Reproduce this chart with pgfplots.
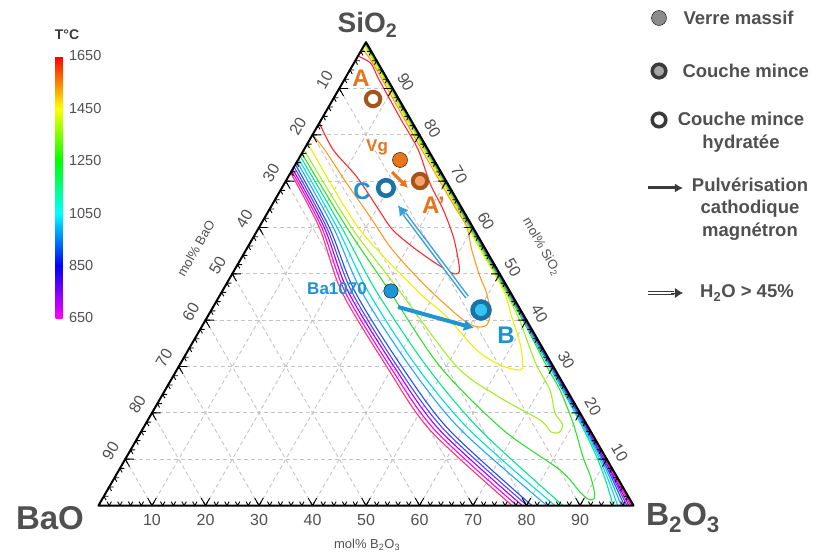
\documentclass[border=0pt]{standalone}
\usepackage{fontspec}
\setmainfont{Liberation Sans}
\usepackage{pgfplots}
\pgfplotsset{compat=1.18}
\usetikzlibrary{arrows.meta,calc}
\definecolor{c1}{HTML}{FF3377}
\definecolor{c2}{HTML}{FF00FF}
\definecolor{c3}{HTML}{A000FF}
\definecolor{c4}{HTML}{5A40FF}
\definecolor{c5}{HTML}{2050FF}
\definecolor{c6}{HTML}{20A8FF}
\definecolor{c7}{HTML}{00DDE0}
\definecolor{c8}{HTML}{00E890}
\definecolor{c9}{HTML}{30E030}
\definecolor{c10}{HTML}{A0F020}
\definecolor{c11}{HTML}{F0F000}
\definecolor{c12}{HTML}{FF9A20}
\definecolor{c13}{HTML}{FF2A2A}
\definecolor{txt}{HTML}{505050}
\definecolor{oranget}{HTML}{E8751A}
\definecolor{brownc}{HTML}{A5541C}
\definecolor{afill}{HTML}{F4A46A}
\definecolor{bluet}{HTML}{1D93D1}
\definecolor{bluec}{HTML}{1B72A4}
\definecolor{bfill}{HTML}{35C4F2}
\definecolor{bdot}{HTML}{1E96D6}
\definecolor{dblb}{HTML}{3A9FDC}
\definecolor{gridc}{HTML}{C4C4C4}
\definecolor{legd}{HTML}{3A3A3A}
\pgfplotsset{
  table/tern/.style={x expr=\thisrow{b}+0.5*\thisrow{s}, y expr=0.8660254*\thisrow{s}, row sep=\\},
  cl/.style={line width=1.1pt, smooth, tension=0.5},
}
\tikzset{
  gl/.style={gridc, line width=0.9pt, dash pattern=on 4pt off 3pt},
  tk/.style={black, line width=0.9pt},
  tl/.style={font=\fontsize{16}{18}\selectfont, text=txt},
  bl/.style={font=\fontsize{24}{28}\bfseries\selectfont},
  lg/.style={font=\fontsize{18.5}{23.5}\bfseries\selectfont, text=txt},
}
\begin{document}
\begin{tikzpicture}
\begin{axis}[
  x=5.35pt, y=5.35pt,
  xmin=-18.411, xmax=135.981, ymin=-10, ymax=94.486,
  hide axis, clip=false,
  colormap={temp}{rgb255(0cm)=(255,0,255); rgb255(1cm)=(128,0,255); rgb255(2cm)=(0,0,255); rgb255(3cm)=(0,128,255); rgb255(4cm)=(0,255,255); rgb255(5cm)=(0,255,128); rgb255(6cm)=(0,255,0); rgb255(7cm)=(128,255,0); rgb255(8cm)=(255,255,0); rgb255(9cm)=(255,128,0); rgb255(10cm)=(255,0,0)},
  colorbar, point meta min=650, point meta max=1650,
  colorbar style={
    at={($(parent axis.origin)+(-51.5pt,449.5pt)$)}, anchor=north west,
    scale only axis, width=7pt, height=262pt,
    ytick={650,850,1050,1250,1450,1650},
    yticklabels={650,850,1050,1250,1450,1650},
    yticklabel style={font=\fontsize{14.5}{16}\selectfont, text=txt, xshift=3pt},
    yticklabel pos=right,
    axis line style={draw=none}, major tick length=0pt,
  },
]
\path (axis cs:-18.411,-10) rectangle (axis cs:135.981,94.486);
% grid
\pgfplotsinvokeforeach{10,20,...,90}{%
  \pgfmathsetmacro\gA{#1/2}\pgfmathsetmacro\gB{100-#1/2}\pgfmathsetmacro\gY{0.8660254*#1}%
  \pgfmathsetmacro\gC{(100+#1)/2}\pgfmathsetmacro\gD{0.8660254*(100-#1)}\pgfmathsetmacro\gE{100-#1}\pgfmathsetmacro\gF{(100-#1)/2}%
  \edef\tmp{\noexpand\draw[gl] (axis cs:\gA,\gY) -- (axis cs:\gB,\gY);
    \noexpand\draw[gl] (axis cs:#1,0) -- (axis cs:\gC,\gD);
    \noexpand\draw[gl] (axis cs:\gE,0) -- (axis cs:\gF,\gD);}\tmp}
% contours: band (left branches)
\addplot[c1,cl] table[tern]{b s\\0 71.8\\11.27 60\\22.38 46.15\\38.87 30\\53.8 16.3\\77.3 0\\};
\addplot[c2,cl] table[tern]{b s\\0 72.2\\11.72 60\\23.0 46.15\\39.49 30\\54.7 16.3\\78.2 0\\};
\addplot[c3,cl] table[tern]{b s\\0 72.6\\12.2 60\\23.6 46.15\\40.23 30\\55.6 16.3\\79.2 0\\};
\addplot[c4,cl] table[tern]{b s\\0 73.1\\12.65 60\\24.25 46.15\\40.86 30\\56.5 16.3\\80.1 0\\};
\addplot[c5,cl] table[tern]{b s\\0 73.6\\13.15 60\\24.87 46.15\\41.67 30\\57.4 16.3\\81.0 0\\};
\addplot[c6,cl] table[tern]{b s\\0 74.2\\13.9 60\\26.1 46.15\\43.22 30\\59.6 16.3\\83.8 0\\};
\addplot[c7,cl] table[tern]{b s\\0 74.8\\14.6 60\\27.35 46.15\\44.47 30\\61.2 16.3\\85.3 0\\};
\addplot[c8,cl] table[tern]{b s\\0 75.4\\15.45 60\\28.9 46.15\\46.35 30\\63.2 16.3\\86.8 0\\};
% band (branches along the B2O3-SiO2 side)
\addplot[c8,cl] table[tern]{b s\\96.2 0\\92.4 5\\88.3 10\\83.8 15\\79.05 20\\69.25 30\\54.4 45\\39.5 60\\24.58 75\\9.65 90\\0 99.7\\};
\addplot[c7,cl] table[tern]{b s\\97.04 0\\92.97 5\\88.67 10\\84.06 15\\79.26 20\\69.42 30\\54.53 45\\39.61 60\\24.67 75\\9.73 90\\0 99.75\\};
\addplot[c6,cl] table[tern]{b s\\97.72 0\\93.44 5\\88.98 10\\84.28 15\\79.43 20\\69.55 30\\54.64 45\\39.7 60\\24.75 75\\9.79 90\\0 99.8\\};
\addplot[c5,cl] table[tern]{b s\\98.29 0\\93.83 5\\89.23 10\\84.46 15\\79.57 20\\69.66 30\\54.73 45\\39.78 60\\24.81 75\\9.84 90\\0 99.85\\};
\addplot[c4,cl] table[tern]{b s\\98.75 0\\94.14 5\\89.44 10\\84.6 15\\79.69 20\\69.75 30\\54.8 45\\39.84 60\\24.86 75\\9.89 90\\0 99.88\\};
\addplot[c3,cl] table[tern]{b s\\99.13 0\\94.4 5\\89.61 10\\84.72 15\\79.78 20\\69.83 30\\54.86 45\\39.89 60\\24.9 75\\9.92 90\\0 99.92\\};
\addplot[c2,cl] table[tern]{b s\\99.47 0\\94.64 5\\89.76 10\\84.83 15\\79.87 20\\69.9 30\\54.92 45\\39.93 60\\24.94 75\\9.95 90\\0 99.95\\};
\addplot[c1,cl] table[tern]{b s\\99.7 0\\94.79 5\\89.86 10\\84.9 15\\79.92 20\\69.94 30\\54.95 45\\39.96 60\\24.97 75\\9.97 90\\0 99.97\\};
% loops
\addplot[c9,cl] table[tern]{b s\\0 76.0\\16.4 60\\31.4 46.15\\48.83 30\\67.5 16.3\\82.43 7.66\\88.54 2.91\\91.0 1.3\\91.9 1.5\\90.95 3.35\\88.58 6.58\\85.33 10.47\\79.79 17.81\\73.79 24.93\\68.8 30\\59.3 40\\49.38 50\\39.44 60\\29.5 70\\19.55 80\\9.6 90\\2.7 97\\0 99.6\\};
\addplot[c10,cl] table[tern]{b s\\0 76.8\\17.3 60\\33.3 46.15\\51.95 30\\63.0 23.5\\73.3 18.45\\76.6 15.9\\78.2 15.8\\78.0 17.5\\75.35 19.97\\71.92 24.93\\67.0 30\\62.8 35\\58.7 40\\54.1 45\\44.2 55\\34.28 65\\24.35 75\\14.42 85\\6.5 93\\0 99.45\\};
\addplot[c11,cl] table[tern]{b s\\0 78.2\\18.56 60\\36.7 46.15\\44.71 40.75\\53.91 33.56\\59.89 30.33\\64.17 29.25\\63.94 30.69\\61.29 35.0\\56.86 40.75\\52.4 46.51\\44.0 55\\34.1 65\\24.15 75\\14.25 85\\6.35 93\\0 99.3\\};
\addplot[c12,cl] table[tern]{b s\\0 80.0\\3.97 76.7\\11.62 69.54\\19.58 62.34\\26.56 55.86\\33.78 50.12\\40.68 45.07\\48.17 40.04\\51.39 38.59\\53.08 38.96\\52.44 41.48\\49.66 45.8\\46.62 49.39\\42.19 55.15\\38.73 60.18\\33.8 65\\23.8 75\\13.9 85\\7.0 92\\3.0 96\\0 98.6\\};
\addplot[c13,cl] table[tern]{b s\\0 82.56\\5.52 76.73\\12.78 70.97\\19.75 64.5\\24.4 60.18\\27.35 58.02\\31.91 55.15\\36.27 52.62\\39.66 50.83\\41.65 49.97\\42.2 50.5\\40.75 52.99\\37.31 58.02\\32.56 63.78\\27.19 69.54\\21.41 76.73\\14.8 83.4\\10.13 88.17\\6.1 92.3\\3.1 95.5\\0 97.0\\};
% triangle
\draw[black, line width=2pt, line join=round] (axis cs:0,0) -- (axis cs:100,0) -- (axis cs:50,86.60254) -- cycle;
% ticks
\pgfplotsinvokeforeach{2,4,...,98}{%
  \pgfmathsetmacro\tA{#1-0.42}\pgfmathsetmacro\tB{#1+0.42}%
  \pgfmathsetmacro\lX{#1/2}\pgfmathsetmacro\lY{0.8660254*#1}\pgfmathsetmacro\lXa{#1/2+0.84}\pgfmathsetmacro\lXb{#1/2+0.42}\pgfmathsetmacro\lYb{0.8660254*#1-0.727}%
  \pgfmathsetmacro\rX{100-#1/2}\pgfmathsetmacro\rXa{100-#1/2-0.84}\pgfmathsetmacro\rXb{100-#1/2-0.42}%
  \edef\tmp{\noexpand\draw[tk] (axis cs:\tA,0.727) -- (axis cs:#1,0) -- (axis cs:\tB,0.727);
   \noexpand\draw[tk] (axis cs:\lXa,\lY) -- (axis cs:\lX,\lY) -- (axis cs:\lXb,\lYb);
   \noexpand\draw[tk] (axis cs:\rXa,\lY) -- (axis cs:\rX,\lY) -- (axis cs:\rXb,\lYb);}\tmp}
\pgfplotsinvokeforeach{10,20,...,90}{%
  \pgfmathsetmacro\tA{#1-0.8}\pgfmathsetmacro\tB{#1+0.8}%
  \pgfmathsetmacro\lX{#1/2}\pgfmathsetmacro\lY{0.8660254*#1}\pgfmathsetmacro\lXa{#1/2+1.6}\pgfmathsetmacro\lXb{#1/2+0.8}\pgfmathsetmacro\lYb{0.8660254*#1-1.386}%
  \pgfmathsetmacro\rX{100-#1/2}\pgfmathsetmacro\rXa{100-#1/2-1.6}\pgfmathsetmacro\rXb{100-#1/2-0.8}%
  \edef\tmp{\noexpand\draw[tk] (axis cs:\tA,1.386) -- (axis cs:#1,0) -- (axis cs:\tB,1.386);
   \noexpand\draw[tk] (axis cs:\lXa,\lY) -- (axis cs:\lX,\lY) -- (axis cs:\lXb,\lYb);
   \noexpand\draw[tk] (axis cs:\rXa,\lY) -- (axis cs:\rX,\lY) -- (axis cs:\rXb,\lYb);}\tmp}
% tick labels
\pgfplotsinvokeforeach{10,20,...,90}{\node[tl] at (axis cs:#1,-2.8) {#1};}
\node[tl,rotate=60] at (axis cs:42.25,79.53) {10};
\node[tl,rotate=60] at (axis cs:37.25,70.87) {20};
\node[tl,rotate=60] at (axis cs:32.25,62.21) {30};
\node[tl,rotate=60] at (axis cs:27.25,53.55) {40};
\node[tl,rotate=60] at (axis cs:22.25,44.89) {50};
\node[tl,rotate=60] at (axis cs:17.25,36.23) {60};
\node[tl,rotate=60] at (axis cs:12.25,27.57) {70};
\node[tl,rotate=60] at (axis cs:7.25,18.91) {80};
\node[tl,rotate=60] at (axis cs:2.25,10.25) {90};
\node[tl,rotate=-60] at (axis cs:57.43,79.14) {90};
\node[tl,rotate=-60] at (axis cs:62.43,70.48) {80};
\node[tl,rotate=-60] at (axis cs:67.43,61.82) {70};
\node[tl,rotate=-60] at (axis cs:72.43,53.16) {60};
\node[tl,rotate=-60] at (axis cs:77.43,44.50) {50};
\node[tl,rotate=-60] at (axis cs:82.43,35.84) {40};
\node[tl,rotate=-60] at (axis cs:87.43,27.18) {30};
\node[tl,rotate=-60] at (axis cs:92.43,18.52) {20};
\node[tl,rotate=-60] at (axis cs:97.43,9.86) {10};
% axis titles
\node[font=\fontsize{13}{15}\selectfont, text=txt] at (axis cs:50.2,-7.38) {mol\% B\textsubscript{2}O\textsubscript{3}};
\node[font=\fontsize{13}{15}\selectfont, text=txt, rotate=60] at (axis cs:18.2,48.1) {mol\% BaO};
\node[font=\fontsize{13}{15}\selectfont, text=txt, rotate=-60] at (axis cs:82.8,48.4) {mol\% SiO\textsubscript{2}};
% vertex labels
\node[font=\fontsize{28}{32}\bfseries\selectfont, text=txt] at (axis cs:50.28,89.81) {SiO\textsubscript{2}};
\node[font=\fontsize{33}{36}\bfseries\selectfont, text=txt] at (axis cs:-9.07,-2.4) {BaO};
\node[font=\fontsize{32}{36}\bfseries\selectfont, text=txt] at (axis cs:109.25,-2.4) {B\textsubscript{2}O\textsubscript{3}};
% arrows
\addplot[oranget, line width=3pt, -{Latex[length=8pt,width=9pt]}] table[tern]{b s\\18.87 71.98\\23.58 68.53\\};
\addplot[bdot, line width=4pt, -{Latex[length=10pt,width=12pt]}] table[tern]{b s\\34.56 42.85\\51.03 38.31\\};
\addplot[dblb, line width=1.5pt, double=white, double distance=1.5pt] table[tern]{b s\\46.38 45.0\\25.70 62.96\\};
\addplot[dblb, line width=0.8pt, -{Latex[length=10pt,width=11pt]}] table[tern]{b s\\25.9 62.78\\23.58 64.8\\};
% markers
\addplot[only marks, mark=*, mark size=7.5pt, mark options={draw=none, fill=oranget}] table[tern]{b s\\19.07 74.58\\};
\addplot[only marks, mark=*, mark size=7.2pt, mark options={draw=brownc, line width=4pt, fill=white}] table[tern]{b s\\7.45 87.74\\};
\addplot[only marks, mark=*, mark size=7.2pt, mark options={draw=brownc, line width=4pt, fill=afill}] table[tern]{b s\\25.07 70.04\\};
\addplot[only marks, mark=*, mark size=7.8pt, mark options={draw=bluec, line width=4.5pt, fill=white}] table[tern]{b s\\19.47 68.53\\};
\addplot[only marks, mark=*, mark size=8.5pt, mark options={draw=bluec, line width=4.5pt, fill=bfill}] table[tern]{b s\\50.40 42.20\\};
\addplot[only marks, mark=*, mark size=7.2pt, mark options={draw=none, fill=bdot}] table[tern]{b s\\31.52 46.30\\};
% point labels
\node[bl, text=oranget] at (axis cs:49.07,79.91) {A};
\node[font=\fontsize{17}{19}\bfseries\selectfont, text=oranget] at (axis cs:52.06,67.01) {Vg};
\node[bl, text=oranget] at (axis cs:62.6,56.17) {A'};
\node[bl, text=bluet] at (axis cs:49.25,58.79) {C};
\node[bl, text=bluet] at (axis cs:76.17,31.87) {B};
\node[font=\fontsize{17}{19}\bfseries\selectfont, text=bluet] at (axis cs:44.58,40.47) {Ba1070};
% colorbar title
\node[font=\fontsize{14}{16}\bfseries\selectfont, text=legd] at (axis cs:-5.89,87.94) {T°C};
% legend
\addplot[only marks, mark=*, mark size=7.5pt, mark options={draw=none, fill=gray!90}] coordinates {(104.77,91.12)};
\addplot[only marks, mark=*, mark size=6.8pt, mark options={draw=legd, line width=3.5pt, fill=gray!70}] coordinates {(104.77,81.21)};
\addplot[only marks, mark=*, mark size=6.8pt, mark options={draw=legd, line width=3.5pt, fill=white}] coordinates {(104.77,72.06)};
\addplot[legd, line width=3pt, -{Latex[length=8pt,width=9pt]}] coordinates {(102.71,59.35) (109.25,59.35)};
\addplot[legd, line width=1.6pt, double=white, double distance=1.4pt] coordinates {(102.71,39.72) (107.6,39.72)};
\addplot[legd, line width=0.8pt, -{Latex[length=8pt,width=10pt]}] coordinates {(107.0,39.72) (109.25,39.72)};
\node[lg, anchor=west] at (axis cs:108.69,91.12) {Verre massif};
\node[lg, anchor=west] at (axis cs:108.5,81.21) {Couche mince};
\node[lg, align=center] at (axis cs:120.09,69.79) {Couche mince\\hydratée};
\node[lg, align=center, font=\fontsize{18.5}{22.5}\bfseries\selectfont] at (axis cs:121.78,55.42) {Pulvérisation\\cathodique\\magnétron};
\node[lg] at (axis cs:121.21,39.72) {H\textsubscript{2}O > 45\%};
\end{axis}
\end{tikzpicture}
\end{document}
